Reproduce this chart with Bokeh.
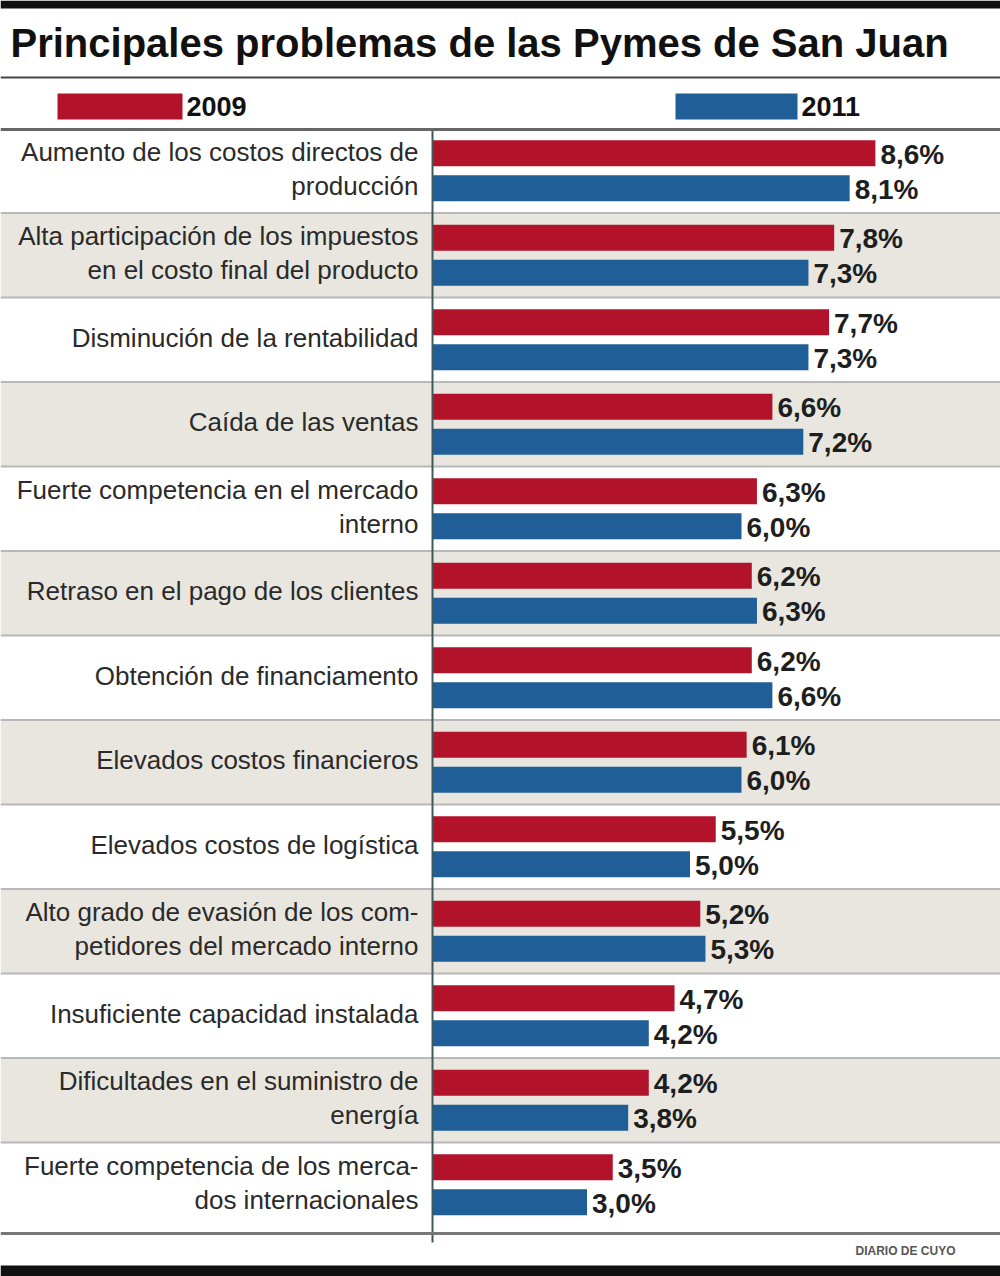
from bokeh.plotting import figure
from bokeh.models import Range1d, ColumnDataSource
from bokeh.core.properties import value
from bokeh.embed import file_html
from bokeh.resources import INLINE

# ---------------- data ----------------
title = "Principales problemas de las Pymes de San Juan"
series_names = ["2009", "2011"]
categories = [
    "Aumento de los costos directos de\nproducción",
    "Alta participación de los impuestos\nen el costo final del producto",
    "Disminución de la rentabilidad",
    "Caída de las ventas",
    "Fuerte competencia en el mercado\ninterno",
    "Retraso en el pago de los clientes",
    "Obtención de financiamento",
    "Elevados costos financieros",
    "Elevados costos de logística",
    "Alto grado de evasión de los com-\npetidores del mercado interno",
    "Insuficiente capacidad instalada",
    "Dificultades en el suministro de\nenergía",
    "Fuerte competencia de los merca-\ndos internacionales",
]
values_2009 = [8.6, 7.8, 7.7, 6.6, 6.3, 6.2, 6.2, 6.1, 5.5, 5.2, 4.7, 4.2, 3.5]
values_2011 = [8.1, 7.3, 7.3, 7.2, 6.0, 6.3, 6.6, 6.0, 5.0, 5.3, 4.2, 3.8, 3.0]
source_note = "DIARIO DE CUYO"

# ---------------- layout / style ----------------
W, H = 1000, 1276
ROW_TOP, ROW_H = 128.0, 84.5      # pixel top of first row, row height
X0_PX, PX_PER_UNIT = 432.0, 51.5  # pixel of zero, pixels per percent
RED, BLUE = "#b3122b", "#1f5e97"
ROW_GRAY = "#e8e6df"

def py(pix):   # pixel from top -> row coordinate
    return (pix - ROW_TOP) / ROW_H - 0.5

def px(pix):   # pixel from left -> percent coordinate
    return (pix - X0_PX) / PX_PER_UNIT

p = figure(width=W, height=H, output_backend="svg", toolbar_location=None,
           x_range=Range1d(px(0), px(W)), y_range=Range1d(py(H), py(0)),
           x_axis_location=None, y_axis_location=None, min_border=0,
           outline_line_color=None, background_fill_color="white",
           border_fill_color="white")
p.xgrid.visible = False
p.ygrid.visible = False

n = len(categories)
idx = list(range(n))

# alternating row backgrounds
gray_rows = [i for i in idx if i % 2 == 1]
p.hbar(y=gray_rows, height=1.0, left=px(0), right=px(W),
       fill_color=ROW_GRAY, line_color=None)

# row separators
p.segment(x0=[px(0)] * (n - 1), x1=[px(W)] * (n - 1),
          y0=[i + 0.5 for i in range(n - 1)], y1=[i + 0.5 for i in range(n - 1)],
          line_color="#b8b8b8", line_width=2)

# bars
off = 17.5 / ROW_H
bh = 26.0 / ROW_H
src = ColumnDataSource(dict(
    y=idx, y09=[i - off for i in idx], y11=[i + off for i in idx],
    v09=values_2009, v11=values_2011,
    t09=[f"{v:.1f}%".replace(".", ",") for v in values_2009],
    t11=[f"{v:.1f}%".replace(".", ",") for v in values_2011],
    cat=categories,
))
p.hbar(y="y09", left=0, right="v09", height=bh, source=src,
       fill_color=RED, line_color=None)
p.hbar(y="y11", left=0, right="v11", height=bh, source=src,
       fill_color=BLUE, line_color=None)

# value labels
for col_y, col_v, col_t in (("y09", "v09", "t09"), ("y11", "v11", "t11")):
    p.text(x=col_v, y=col_y, text=col_t, source=src, x_offset=5, y_offset=1,
           text_align="left", text_baseline="middle",
           text_font=value("Liberation Sans"), text_font_style="bold",
           text_font_size="28px", text_color="#1e1e1e")

# category labels
p.text(x=0, y="y", text="cat", source=src, x_offset=-14, y_offset=-2,
       text_align="right", text_baseline="middle",
       text_font=value("Liberation Sans"), text_font_size="26px",
       text_color="#2a2a2a", text_line_height=1.13)

# zero axis line
p.segment(x0=[0], x1=[0], y0=[py(ROW_TOP)], y1=[py(1242)],
          line_color="#3d5a5a", line_width=2)

# top & bottom frame lines
p.segment(x0=[px(0)] * 3, x1=[px(W)] * 3,
          y0=[py(77), py(129), py(1233)], y1=[py(77), py(129), py(1233)],
          line_color=["#444444", "#666666", "#777777"], line_width=[2, 3, 3])

# black bars top and bottom
p.quad(left=[px(0), px(0)], right=[px(W), px(W)],
       top=[py(0), py(1265)], bottom=[py(8), py(H)],
       fill_color="#111111", line_color=None)

# title
p.text(x=[px(10)], y=[py(42)], text=[title], text_align="left",
       text_baseline="middle", text_font=value("Liberation Sans"),
       text_font_style="bold", text_font_size="40px", text_color="#111111")

# legend
leg_x = [(57, 182), (675, 797)]
for (x_a, x_b), name, col in zip(leg_x, series_names, [RED, BLUE]):
    p.quad(left=[px(x_a)], right=[px(x_b)], top=[py(93)], bottom=[py(119)],
           fill_color=col, line_color=None)
    p.text(x=[px(x_b + 4)], y=[py(106)], text=[name], text_align="left",
           text_baseline="middle", text_font=value("Liberation Sans"),
           text_font_style="bold", text_font_size="27px", text_color="#111111")

# source
p.text(x=[px(955)], y=[py(1250)], text=[source_note], text_align="right",
       text_baseline="middle", text_font=value("Liberation Sans"),
       text_font_style="bold", text_font_size="12px", text_color="#555555")

open("out.html", "w").write(file_html(p, INLINE))
